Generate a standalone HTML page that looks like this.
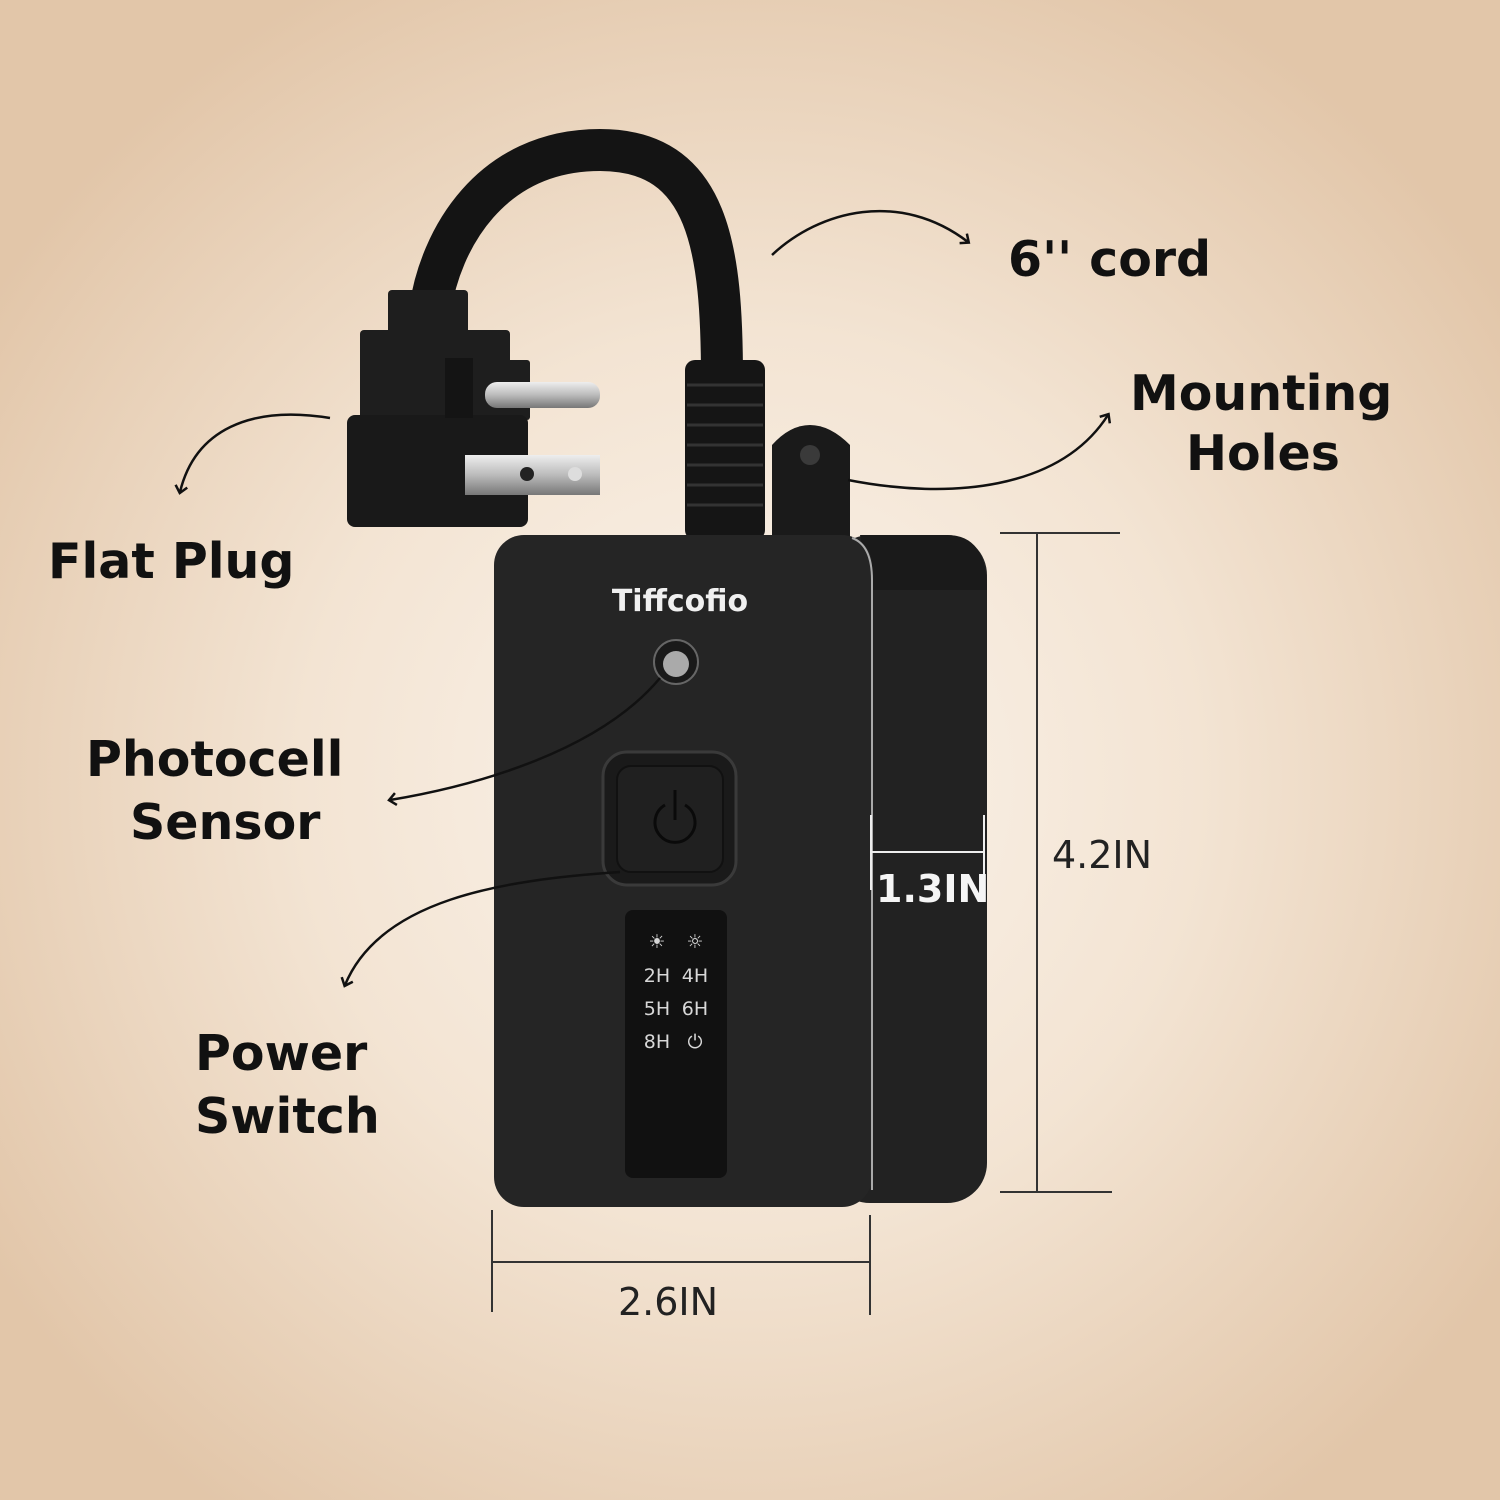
<!DOCTYPE html>
<html><head><meta charset="utf-8"><style>
html,body{margin:0;padding:0}
body{width:1500px;height:1500px;overflow:hidden;background:radial-gradient(ellipse 60% 60% at 50% 52%,#fbf4ec 0%,#f3e4d3 50%,#e2c6a9 100%)}
svg{display:block}
text{font-family:"DejaVu Sans","Liberation Sans",sans-serif}
</style></head><body>
<svg width="1500" height="1500" viewBox="0 0 1500 1500">
<defs>
<marker id="ah" markerWidth="14" markerHeight="14" refX="7" refY="7" orient="auto" markerUnits="userSpaceOnUse"><path d="M1,1 L8,7 L1,13" fill="none" stroke="#111" stroke-width="2.5"/></marker>
<linearGradient id="met" x1="0" y1="0" x2="0" y2="1"><stop offset="0" stop-color="#eee"/><stop offset="0.5" stop-color="#bbb"/><stop offset="1" stop-color="#777"/></linearGradient>
</defs>
<!-- cord -->
<path d="M722,380 C722,250 710,150 600,150 C490,150 440,240 430,310" fill="none" stroke="#141414" stroke-width="42" stroke-linecap="round"/>
<!-- plug -->
<rect x="388" y="290" width="80" height="45" rx="4" fill="#1e1e1e"/>
<rect x="360" y="330" width="150" height="90" rx="4" fill="#1e1e1e"/>
<rect x="500" y="360" width="30" height="60" rx="3" fill="#1e1e1e"/>
<rect x="347" y="415" width="181" height="112" rx="8" fill="#191919"/>
<rect x="445" y="358" width="28" height="60" fill="#141414"/>
<rect x="485" y="382" width="115" height="26" rx="12" fill="url(#met)"/>
<rect x="465" y="455" width="135" height="40" fill="url(#met)"/>
<circle cx="527" cy="474" r="7" fill="#222"/>
<circle cx="575" cy="474" r="7" fill="#ddd"/>
<!-- strain relief -->
<rect x="685" y="360" width="80" height="180" rx="10" fill="#151515"/>
<g stroke="#333" stroke-width="3">
<line x1="687" y1="385" x2="763" y2="385"/><line x1="687" y1="405" x2="763" y2="405"/><line x1="687" y1="425" x2="763" y2="425"/><line x1="687" y1="445" x2="763" y2="445"/><line x1="687" y1="465" x2="763" y2="465"/><line x1="687" y1="485" x2="763" y2="485"/><line x1="687" y1="505" x2="763" y2="505"/></g>
<!-- mount tab -->
<path d="M772,540 L772,445 Q790,425 810,425 Q830,425 850,445 L850,540 Z" fill="#1a1a1a"/>
<circle cx="810" cy="455" r="10" fill="#3a3a3a"/>
<!-- body side -->
<rect x="830" y="535" width="157" height="668" rx="40" fill="#222"/>
<path d="M860,535 L947,535 Q987,535 987,590 L987,590 L870,590 Z" fill="#1a1a1a"/>
<!-- body front -->
<rect x="494" y="535" width="378" height="672" rx="30" fill="#252525"/>
<path d="M852,538 Q872,545 872,580 L872,1190" fill="none" stroke="#aaa" stroke-width="2"/>
<text x="680" y="611" font-size="30" font-weight="bold" fill="#f0f0f0" text-anchor="middle">Tiffcofio</text>
<circle cx="676" cy="662" r="22" fill="#1a1a1a" stroke="#666" stroke-width="2"/>
<circle cx="676" cy="664" r="13" fill="#aaa"/>
<rect x="603" y="752" width="133" height="133" rx="24" fill="#1a1a1a" stroke="#3a3a3a" stroke-width="3"/>
<rect x="617" y="766" width="106" height="106" rx="14" fill="#202020" stroke="#111" stroke-width="2"/>
<path d="M665,805 A20,20 0 1 0 685,805" fill="none" stroke="#0a0a0a" stroke-width="3"/>
<line x1="675" y1="790" x2="675" y2="820" stroke="#0a0a0a" stroke-width="3"/>
<rect x="625" y="910" width="102" height="268" rx="8" fill="#111"/>
<g fill="#d8d8d8" font-size="19" text-anchor="middle">
<text x="657" y="948">☀</text><text x="695" y="948">☼</text>
<text x="657" y="982">2H</text><text x="695" y="982">4H</text>
<text x="657" y="1015">5H</text><text x="695" y="1015">6H</text>
<text x="657" y="1048">8H</text><text x="695" y="1048">⏻</text></g>
<!-- dimension lines -->
<g stroke="#333" stroke-width="2" fill="none">
<line x1="1000" y1="533" x2="1120" y2="533"/><line x1="1000" y1="1192" x2="1112" y2="1192"/><line x1="1037" y1="533" x2="1037" y2="1192"/>
<line x1="492" y1="1210" x2="492" y2="1312"/><line x1="870" y1="1215" x2="870" y2="1315"/><line x1="492" y1="1262" x2="870" y2="1262"/>
</g>
<g stroke="#eee" stroke-width="2" fill="none">
<line x1="871" y1="815" x2="871" y2="890"/><line x1="984" y1="815" x2="984" y2="890"/><line x1="871" y1="852" x2="984" y2="852"/>
</g>
<!-- arrows -->
<g stroke="#111" stroke-width="2.5" fill="none" marker-end="url(#ah)">
<path d="M772,255 C820,210 900,190 968,242"/>
<path d="M848,480 C950,500 1060,490 1108,415"/>
<path d="M330,418 C250,405 195,430 180,492"/>
<path d="M660,678 C600,750 480,785 390,800"/>
<path d="M620,872 C500,880 380,900 345,985"/>
</g>
<g fill="#111" font-weight="bold" font-size="49">
<text x="1008" y="276">6'' cord</text>
<text x="1130" y="410">Mounting</text>
<text x="1186" y="470">Holes</text>
<text x="48" y="578">Flat Plug</text>
<text x="86" y="776">Photocell</text>
<text x="130" y="839">Sensor</text>
<text x="195" y="1070">Power</text>
<text x="195" y="1133">Switch</text>
</g>
<g fill="#222" font-size="38">
<text x="1052" y="868">4.2IN</text>
<text x="618" y="1315">2.6IN</text>
</g>
<text x="876" y="902" font-size="38" font-weight="bold" fill="#f5f5f5">1.3IN</text>
</svg>
</body></html>
